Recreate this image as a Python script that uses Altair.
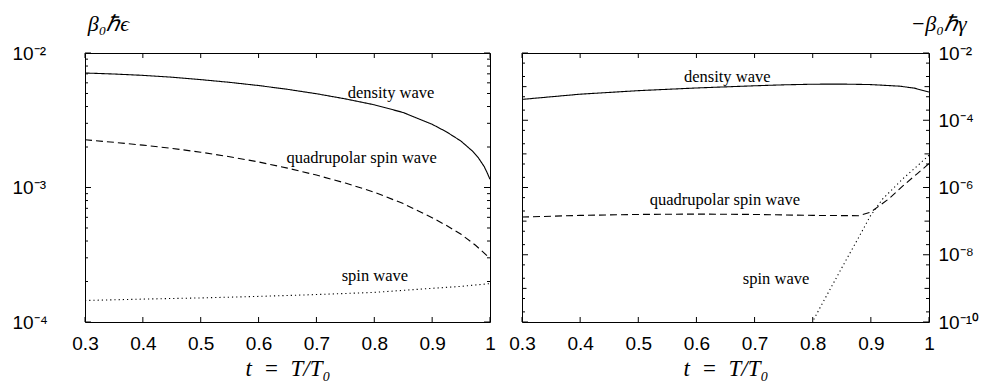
import math
import altair as alt
import pandas as pd

# ---------------- data ----------------
T_TICKS = [0.3, 0.4, 0.5, 0.6, 0.7, 0.8, 0.9, 1.0]

# left panel: beta0 hbar epsilon
L_DENS_T = [0.3, 0.35, 0.4, 0.45, 0.5, 0.55, 0.6, 0.65, 0.7, 0.75, 0.8, 0.85, 0.9, 0.925,
            0.95, 0.97, 0.98, 0.99, 0.995, 1.0]
L_DENS_V = [7.10e-3, 6.98e-3, 6.82e-3, 6.61e-3, 6.34e-3, 6.05e-3, 5.73e-3, 5.37e-3, 4.98e-3,
            4.56e-3, 4.12e-3, 3.61e-3, 2.95e-3, 2.59e-3, 2.21e-3, 1.86e-3, 1.66e-3, 1.43e-3,
            1.29e-3, 1.15e-3]
L_QUAD_T = [0.3, 0.35, 0.4, 0.45, 0.5, 0.55, 0.6, 0.65, 0.7, 0.75, 0.8, 0.85, 0.9, 0.925,
            0.95, 0.975, 1.0]
L_QUAD_V = [2.265e-3, 2.168e-3, 2.065e-3, 1.954e-3, 1.830e-3, 1.694e-3, 1.549e-3, 1.393e-3,
            1.237e-3, 1.079e-3, 9.23e-4, 7.59e-4, 5.96e-4, 5.21e-4, 4.49e-4, 3.72e-4, 2.97e-4]
L_SPIN_T = [0.3, 0.4, 0.5, 0.6, 0.7, 0.8, 0.9, 0.95, 1.0]
L_SPIN_V = [1.445e-4, 1.48e-4, 1.51e-4, 1.55e-4, 1.60e-4, 1.66e-4, 1.78e-4, 1.84e-4, 1.93e-4]

# right panel: -beta0 hbar gamma
R_DENS_T = [0.3, 0.4, 0.5, 0.6, 0.7, 0.75, 0.8, 0.85, 0.9, 0.95, 0.975, 1.0]
R_DENS_V = [4.17e-4, 5.96e-4, 7.59e-4, 9.12e-4, 1.06e-3, 1.13e-3, 1.18e-3, 1.19e-3, 1.15e-3,
            1.03e-3, 9.0e-4, 6.9e-4]
R_QUAD_T = [0.3, 0.4, 0.5, 0.6, 0.7, 0.8, 0.88, 0.9, 0.93, 0.956, 0.98, 1.0]
R_QUAD_V = [1.32e-7, 1.48e-7, 1.58e-7, 1.62e-7, 1.58e-7, 1.48e-7, 1.45e-7, 1.86e-7, 4.47e-7,
            1.15e-6, 2.6e-6, 5.13e-6]
R_SPIN_T = [0.795, 0.813, 0.856, 0.88, 0.899, 0.92, 0.955, 0.98, 1.0]
R_SPIN_V = [7.1e-11, 2.75e-10, 6.3e-9, 3.5e-8, 1.41e-7, 4.5e-7, 1.82e-6, 4.4e-6, 9.1e-6]

SERIES = ["density wave", "quadrupolar spin wave", "spin wave"]

# curve labels (t, value)
L_LABEL_T = [0.829, 0.778, 0.801]
L_LABEL_V = [5.08e-3, 1.66e-3, 2.20e-4]
R_LABEL_T = [0.653, 0.649, 0.737]
R_LABEL_V = [1.93e-3, 4.22e-7, 1.88e-9]

# axes
L_Y_TICKS = [1e-4, 1e-3, 1e-2]
L_Y_LABELS = ["10\u207b\u2074", "10\u207b\u00b3", "10\u207b\u00b2"]
R_Y_TICKS = [1e-10, 1e-8, 1e-6, 1e-4, 1e-2]
R_Y_LABELS = ["10\u207b\u00b9\u2070", "10\u207b\u2078", "10\u207b\u2076", "10\u207b\u2074", "10\u207b\u00b2"]
L_Y_DOMAIN = [1e-4, 1e-2]
R_Y_DOMAIN = [1e-10, 1e-2]
L_TITLE = "\u03b2\u2080\u210f\u03f5"
R_TITLE = "\u2212\u03b2\u2080\u210f\u03b3"
X_TITLE = "t\u2002=\u2002T/T\u2080"

W_L, W_R, H = 405, 407, 269

LABEL_FONT = "Liberation Sans"
SERIF = "Liberation Serif"


def label_expr(ticks, labels):
    expr = "''"
    for v, s in zip(ticks, labels):
        expr = f"abs(log(datum.value)/LN10 - ({math.log10(v):.4f})) < 0.05 ? '{s}' : " + expr
    return expr


def curves_df(ts, vs):
    rows = []
    for name, tt, vv in zip(SERIES, ts, vs):
        for t, v in zip(tt, vv):
            rows.append({"t": t, "v": v, "series": name})
    return pd.DataFrame(rows)


def panel(curves, lab_t, lab_v, ydomain, yticks, ylabels, title, orient, width,
          major_ticks, mid_ticks, minor_ticks, title_x, label_pad, label_align):
    xenc = alt.X("t:Q", scale=alt.Scale(domain=[0.3, 1.0], nice=False, zero=False),
                 axis=alt.Axis(values=T_TICKS, format="~g", title=X_TITLE, grid=False,
                               ticks=False, tickSize=0, domain=False,
                               labelFont=LABEL_FONT, labelFontSize=19, labelColor="black",
                               labelPadding=12, labelFlush=False,
                               titleFont=SERIF, titleFontStyle="italic", titleFontWeight="normal",
                               titleFontSize=23, titleColor="black", titlePadding=4))
    yenc = alt.Y("v:Q", scale=alt.Scale(type="log", domain=ydomain, nice=False),
                 axis=alt.Axis(orient=orient, values=yticks, labelExpr=label_expr(yticks, ylabels),
                               grid=False, ticks=False, tickSize=0, domain=False,
                               labelFont=LABEL_FONT, labelFontSize=19, labelColor="black",
                               labelPadding=label_pad, labelFlush=False, labelAlign=label_align,
                               title=title, titleAngle=0, titleX=title_x, titleY=-40,
                               titleBaseline="top", titleAlign="center",
                               titleFont=SERIF, titleFontStyle="italic", titleFontWeight="normal",
                               titleFontSize=22, titleColor="black"))

    lines = alt.Chart(curves).mark_line(clip=True, color="black", strokeWidth=1.1).encode(
        x=xenc, y=yenc,
        strokeDash=alt.StrokeDash("series:N", scale=alt.Scale(domain=SERIES,
                                  range=[[1, 0], [7, 4], [1.2, 3]]), legend=None),
    )
    labs = alt.Chart(pd.DataFrame({"t": lab_t, "v": lab_v, "name": SERIES})).mark_text(
        font=SERIF, fontSize=16.5, color="black", baseline="middle").encode(x=xenc, y=yenc, text="name:N")

    # inward tick marks on all four sides of the frame
    xt = pd.DataFrame({"t": T_TICKS})
    xlen = 5
    xtick_b = alt.Chart(xt).mark_rule(color="black", strokeWidth=1).encode(
        x=xenc, y=alt.value(H), y2=alt.value(H - xlen))
    xtick_t = alt.Chart(xt).mark_rule(color="black", strokeWidth=1).encode(
        x=xenc, y=alt.value(0), y2=alt.value(xlen))

    layers = [lines, labs, xtick_b, xtick_t]
    for vals, ln in ((major_ticks, 6), (mid_ticks, 4.5), (minor_ticks, 3)):
        if not vals:
            continue
        d = pd.DataFrame({"v": vals})
        layers.append(alt.Chart(d).mark_rule(color="black", strokeWidth=1)
                      .encode(y=yenc, x=alt.value(0), x2=alt.value(ln)))
        layers.append(alt.Chart(d).mark_rule(color="black", strokeWidth=1)
                      .encode(y=yenc, x=alt.value(width - ln), x2=alt.value(width)))
    return alt.layer(*layers).properties(width=width, height=H)


left_curves = curves_df([L_DENS_T, L_QUAD_T, L_SPIN_T], [L_DENS_V, L_QUAD_V, L_SPIN_V])
right_curves = curves_df([R_DENS_T, R_QUAD_T, R_SPIN_T], [R_DENS_V, R_QUAD_V, R_SPIN_V])

L_MINOR = [m * d for d in (1e-4, 1e-3) for m in range(2, 10)]
R_MID = [10.0 ** k for k in (-9, -7, -5, -3)]
R_MINOR = [m * 10.0 ** k for k in range(-10, -2) for m in (2, 5)]

left = panel(left_curves, L_LABEL_T, L_LABEL_V, L_Y_DOMAIN, L_Y_TICKS, L_Y_LABELS, L_TITLE,
             "left", W_L, L_Y_TICKS, [], L_MINOR, 23, 73, "left")
right = panel(right_curves, R_LABEL_T, R_LABEL_V, R_Y_DOMAIN, R_Y_TICKS, R_Y_LABELS, R_TITLE,
              "right", W_R, R_Y_TICKS, R_MID, R_MINOR, 9, 9, "left")

chart = alt.hconcat(left, right, spacing=32, bounds="flush").properties(
    padding={"left": 3, "top": 3, "right": 5, "bottom": 0}
).configure(background="white").configure_view(stroke="black", strokeWidth=1)

chart.save("out.html", embed_options={"renderer": "svg", "actions": False})
